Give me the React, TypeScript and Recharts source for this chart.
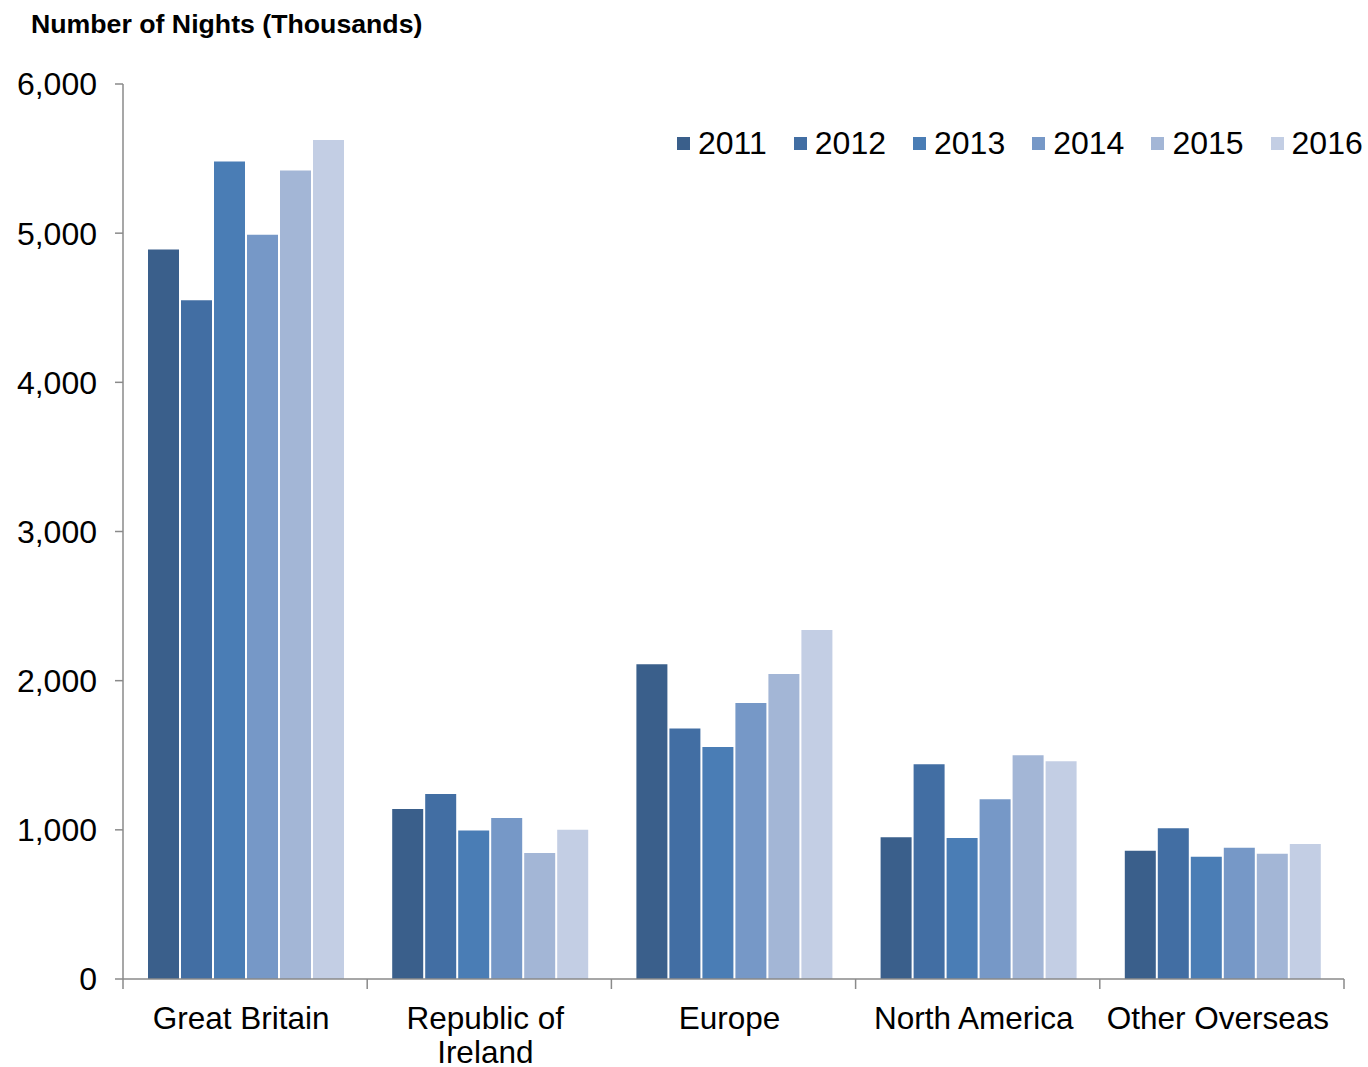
import React from "react";
import { BarChart, Bar, XAxis, YAxis } from "recharts";

const categories = [
  "Great Britain",
  "Republic of Ireland",
  "Europe",
  "North America",
  "Other Overseas",
];
const years = ["2011", "2012", "2013", "2014", "2015", "2016"];
const colors = ["#3A5F8B", "#426EA3", "#4A7DB5", "#7698C7", "#A3B6D6", "#C3CEE4"];

const v2011 = [4890, 1140, 2110, 950, 860];
const v2012 = [4550, 1240, 1680, 1440, 1010];
const v2013 = [5480, 995, 1555, 945, 820];
const v2014 = [4990, 1080, 1850, 1205, 880];
const v2015 = [5420, 845, 2045, 1500, 840];
const v2016 = [5625, 1000, 2340, 1460, 905];
const yTicks = [0, 1000, 2000, 3000, 4000, 5000, 6000];

const series = [v2011, v2012, v2013, v2014, v2015, v2016];
const data = categories.map((name, i) => {
  const row: Record<string, string | number> = { name };
  years.forEach((y, s) => {
    row[y] = series[s][i];
  });
  return row;
});

const W = 1368;
const H = 1067;
const LEFT = 123;
const RIGHT = 24;
const TOP = 84;
const BOTTOM = 88;
const BAND = (W - LEFT - RIGHT) / categories.length;
const FONT = "'Liberation Sans', Arial, sans-serif";
const AXIS = "#8a8a8a";

const labelLines: Record<string, string[]> = {
  "Republic of Ireland": ["Republic of", "Ireland"],
};

function CategoryTick(props: any) {
  const { x, y, payload, index } = props;
  const lines = labelLines[payload.value] || [payload.value];
  const left = x - BAND / 2;
  return (
    <g>
      <line x1={left} y1={y} x2={left} y2={y + 10} stroke={AXIS} strokeWidth={1.5} />
      {index === categories.length - 1 && (
        <line x1={left + BAND} y1={y} x2={left + BAND} y2={y + 10} stroke={AXIS} strokeWidth={1.5} />
      )}
      <text x={x - 4} y={y} textAnchor="middle" fill="#000" fontSize={31.5} fontFamily={FONT}>
        {lines.map((l, i) => (
          <tspan key={l} x={x - 4} dy={i === 0 ? 50 : 34}>
            {l}
          </tspan>
        ))}
      </text>
    </g>
  );
}

export default function App() {
  return (
    <div style={{ position: "absolute", left: 0, top: 0, width: W, height: H, background: "#fff" }}>
      <div
        style={{
          position: "absolute",
          left: 31,
          top: 9,
          fontFamily: FONT,
          fontWeight: "bold",
          fontSize: 26.7,
          color: "#000",
        }}
      >
        Number of Nights (Thousands)
      </div>
      <div
        style={{
          position: "absolute",
          left: 677,
          top: 125,
          display: "flex",
          alignItems: "center",
          fontFamily: FONT,
          fontSize: 32,
          color: "#000",
          whiteSpace: "nowrap",
          zIndex: 2,
        }}
      >
        {years.map((y, i) => (
          <div
            key={y}
            style={{ display: "flex", alignItems: "center", marginRight: i === years.length - 1 ? 0 : 27 }}
          >
            <span style={{ width: 13, height: 13, background: colors[i], marginRight: 8 }} />
            <span>{y}</span>
          </div>
        ))}
      </div>
      <BarChart
        width={W}
        height={H}
        data={data}
        margin={{ top: TOP, right: RIGHT, left: 0, bottom: 0 }}
        barCategoryGap={25}
        barGap={2}
      >
        <XAxis
          dataKey="name"
          height={BOTTOM}
          axisLine={{ stroke: AXIS, strokeWidth: 1.5 }}
          tickLine={false}
          tickSize={0}
          tickMargin={0}
          interval={0}
          tick={<CategoryTick />}
        />
        <YAxis
          width={LEFT}
          domain={[0, 6000]}
          ticks={yTicks}
          tickFormatter={(v: number) => v.toLocaleString("en-US")}
          axisLine={{ stroke: AXIS, strokeWidth: 1.5 }}
          tickLine={{ stroke: AXIS, strokeWidth: 1.5 }}
          tickSize={8}
          tickMargin={18}
          tick={{ fill: "#000", fontSize: 32, fontFamily: FONT }}
        />
        {years.map((y, i) => (
          <Bar key={y} dataKey={y} fill={colors[i]} isAnimationActive={false} />
        ))}
      </BarChart>
    </div>
  );
}
